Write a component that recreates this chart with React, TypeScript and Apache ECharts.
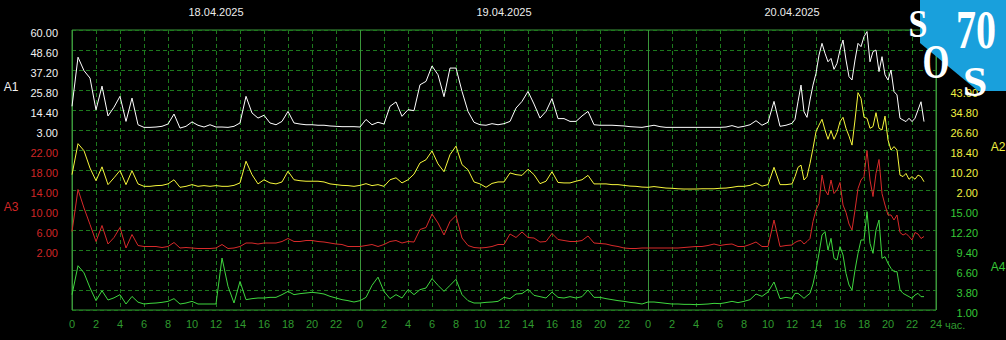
import React, { useEffect, useRef } from 'react';
import * as echarts from 'echarts';

// ---------- data ----------
const DAYS = ['18.04.2025', '19.04.2025', '20.04.2025'];

const A1_TICKS = ['60.00', '48.60', '37.20', '25.80', '14.40', '3.00'];
const A2_TICKS = ['43.00', '34.80', '26.60', '18.40', '10.20', '2.00'];
const A3_TICKS = ['22.00', '18.00', '14.00', '10.00', '6.00', '2.00'];
const A4_TICKS = ['15.00', '12.20', '9.40', '6.60', '3.80', '1.00'];

// sample times in hours from 18.04 00:00: every 30 min up to 59.5 h, then every 15 min up to 71 h
const TIMES: number[] = Array.from({ length: 120 }, (_, i) => i * 0.5).concat(
  Array.from({ length: 45 }, (_, i) => 60 + i * 0.25)
);

const A1_VALUES = [
  // 18.04
  16.5, 44.5, 36.8, 32.6, 14.5, 28.0, 11.0, 16.0, 22.2, 7.9, 21.2, 6.0, 4.5, 4.5, 4.7, 5.1, 6.4, 12.1, 4.1, 5.1, 7.6, 5.7, 4.7, 6.0,
  4.7, 4.7, 4.5, 5.1, 7.0, 22.2, 12.7, 9.8, 11.4, 7.0, 6.0, 7.9, 13.6, 7.0, 6.4, 6.0, 6.0, 5.7, 5.7, 5.3, 5.1, 4.9, 4.9, 4.9,
  // 19.04
  4.7, 9.0, 6.0, 7.4, 6.4, 16.5, 19.0, 10.8, 14.6, 14.0, 28.8, 30.7, 39.5, 34.5, 22.0, 38.3, 38.3, 25.0, 13.6, 7.4, 6.0, 5.7, 6.6, 6.0,
  6.6, 7.9, 15.5, 19.3, 25.0, 17.8, 9.8, 13.6, 20.9, 9.5, 9.5, 7.9, 7.9, 11.0, 13.6, 6.0, 5.7, 5.7, 5.7, 5.5, 5.3, 4.9, 4.7, 4.5,
  // 20.04 00:00-11:30
  5.1, 5.7, 4.9, 4.5, 4.5, 4.5, 4.5, 4.5, 4.5, 4.5, 4.5, 4.5, 4.5, 4.7, 5.5, 4.5, 5.1, 6.0, 8.3, 5.7, 7.4, 19.3, 5.1, 5.7,
  // 20.04 12:00-23:00 (15 min)
  6.8, 9.1, 19.1, 28.6, 13.4, 10.2, 20.1, 28.6, 35.3, 45.7, 52.4, 46.7, 41.9, 43.8, 37.6, 41.0, 48.6, 54.3, 42.9, 33.4, 31.5, 42.9, 52.4,
  50.5, 56.2, 59.1, 41.9, 47.7, 48.6, 36.3, 44.8, 34.4, 31.5, 37.2, 24.9, 23.0, 9.7, 8.7, 7.8, 9.7, 7.8, 9.7, 14.4, 19.1, 7.8,
];

const A2_VALUES = [
  8.3, 21.0, 18.1, 11.0, 5.8, 11.5, 4.2, 7.0, 10.0, 4.2, 9.9, 4.5, 3.5, 3.5, 3.8, 3.9, 4.5, 6.2, 3.1, 3.5, 4.2, 3.5, 3.8, 3.5,
  3.8, 3.5, 3.5, 3.9, 4.9, 13.8, 8.3, 4.5, 6.2, 4.9, 4.5, 5.3, 9.7, 6.2, 5.8, 5.6, 5.6, 5.6, 5.3, 4.5, 4.2, 3.9, 3.8, 3.5,
  3.9, 4.6, 3.8, 4.2, 3.5, 6.2, 7.0, 4.9, 6.2, 8.5, 13.1, 14.4, 18.0, 12.7, 9.5, 16.5, 20.0, 12.4, 10.3, 5.3, 4.5, 3.1, 4.7, 5.3,
  5.3, 9.0, 8.3, 8.0, 10.5, 8.3, 4.6, 5.6, 9.5, 5.1, 4.9, 4.9, 5.6, 6.2, 8.0, 4.5, 4.5, 4.5, 4.2, 4.2, 3.9, 3.6, 3.5, 3.2,
  3.1, 3.4, 3.1, 2.8, 2.7, 2.5, 2.4, 2.4, 2.4, 2.5, 2.5, 2.5, 2.7, 2.8, 3.1, 3.5, 3.5, 3.9, 4.9, 3.6, 4.2, 11.3, 4.2, 4.2,
  4.5, 7.5, 11.3, 12.2, 6.1, 7.5, 12.9, 19.1, 25.9, 28.6, 31.0, 26.6, 22.8, 26.3, 22.8, 25.5, 30.0, 31.8, 27.3, 24.1, 20.4, 30.7, 41.9,
  39.6, 31.8, 31.4, 27.3, 28.0, 33.7, 27.3, 26.6, 32.3, 22.5, 18.4, 19.8, 18.4, 8.1, 7.5, 8.8, 6.4, 7.5, 6.4, 8.1, 7.5, 5.4,
];

const A3_VALUES = [
  5.7, 14.1, 10.4, 7.1, 3.7, 6.9, 3.2, 4.5, 6.5, 2.4, 5.1, 2.9, 2.7, 2.7, 2.7, 2.5, 2.7, 3.5, 2.4, 2.5, 2.4, 2.3, 2.3, 2.3,
  2.4, 3.1, 2.3, 2.4, 2.7, 3.4, 3.4, 3.2, 3.4, 3.4, 3.4, 3.7, 4.3, 3.7, 3.7, 3.9, 3.9, 3.7, 3.6, 3.4, 3.2, 3.1, 2.7, 2.7,
  2.7, 2.9, 3.1, 2.7, 3.1, 3.7, 3.9, 3.4, 3.7, 3.6, 6.1, 6.5, 9.2, 7.4, 5.0, 7.7, 8.9, 4.4, 2.9, 2.5, 2.4, 2.5, 2.7, 3.1,
  3.1, 5.2, 4.5, 5.6, 4.5, 4.4, 3.6, 3.7, 5.3, 4.1, 3.9, 3.7, 3.7, 3.9, 4.8, 3.4, 3.3, 3.2, 2.9, 2.7, 2.4, 2.3, 2.3, 2.4,
  2.4, 2.4, 2.4, 2.4, 2.4, 2.4, 2.5, 2.6, 2.7, 2.7, 2.9, 3.2, 2.9, 3.1, 3.2, 2.7, 2.7, 3.1, 3.6, 2.7, 2.7, 8.0, 2.7, 2.9,
  3.0, 3.5, 3.8, 3.9, 3.2, 3.7, 4.3, 7.7, 10.0, 11.3, 17.0, 14.0, 13.0, 16.0, 13.3, 14.0, 15.5, 11.0, 9.5, 7.2, 6.0, 10.0, 14.3,
  16.0, 16.7, 21.9, 16.0, 12.7, 17.3, 20.1, 13.3, 11.0, 9.0, 9.0, 8.0, 9.0, 5.5, 5.0, 5.3, 4.7, 4.0, 5.5, 5.2, 4.3, 4.7,
];

const A4_VALUES = [
  3.15, 7.2, 6.2, 4.1, 2.3, 3.7, 2.4, 2.7, 3.15, 1.84, 2.9, 2.1, 1.84, 1.93, 1.98, 2.07, 2.21, 2.59, 1.84, 1.98, 2.21, 1.84, 1.84, 1.84,
  1.84, 8.28, 4.31, 1.98, 5.0, 2.45, 2.59, 2.68, 2.68, 2.77, 2.77, 3.15, 3.61, 3.15, 3.29, 3.38, 3.47, 3.38, 3.24, 2.91, 2.68, 2.45, 2.31, 2.12,
  2.31, 2.77, 4.45, 5.6, 3.6, 2.59, 3.15, 2.68, 3.85, 3.15, 3.85, 4.08, 5.4, 4.45, 3.61, 4.45, 5.3, 3.15, 2.31, 1.98, 1.98, 2.07, 2.12, 2.21,
  2.77, 2.59, 3.24, 3.3, 3.9, 3.05, 2.87, 2.68, 3.5, 2.77, 2.68, 2.87, 2.68, 2.87, 3.8, 2.77, 2.77, 2.59, 2.45, 2.31, 2.21, 2.07, 1.98, 1.84,
  2.12, 2.12, 2.03, 1.93, 1.84, 1.84, 1.79, 1.79, 1.75, 1.79, 1.84, 1.93, 1.89, 2.03, 2.21, 2.03, 2.21, 2.45, 3.24, 2.91, 3.52, 4.92, 2.59, 2.77,
  2.63, 3.33, 3.33, 3.0, 2.63, 3.0, 3.33, 4.64, 6.6, 8.93, 11.5, 11.97, 9.4, 11.03, 8.23, 8.0, 9.87, 8.7, 6.13, 4.5, 3.8, 6.6, 8.93,
  10.8, 10.8, 14.77, 10.33, 8.93, 12.2, 13.6, 8.23, 8.47, 7.53, 6.83, 6.37, 6.37, 3.8, 3.33, 3.1, 2.87, 2.63, 3.1, 3.33, 2.87, 2.87,
];

// ---------- styles ----------
const FONT = '"Liberation Sans", Arial, sans-serif';
const SERIF = '"Liberation Serif", "Times New Roman", serif';
const GRID_DASH = '#1d7a1d';
const BORDER = '#3a963a';
const C_WHITE = '#ffffff';
const C_YELLOW = '#f6f63c';
const C_RED = '#d82a2a';
const C_GREEN = '#3fd63f';
const L_WHITE = '#f2f2f2';
const L_YELLOW = '#f0f040';
const L_RED = '#d02626';
const L_GREEN = '#36c836';
const X_LABEL = '#2f9a2f';

const pair = (vals: number[]) => TIMES.map((t, i) => [t, vals[i]]);
const tickFmt = (ticks: string[]) => (v: number) => {
  const s = (Math.round(v * 100) / 100).toFixed(2);
  return ticks.includes(s) ? s : '';
};

const valueAxis = (
  position: 'left' | 'right',
  min: number,
  max: number,
  interval: number,
  ticks: string[],
  color: string
) => ({
  type: 'value',
  position,
  min,
  max,
  interval,
  axisLine: { show: false },
  axisTick: { show: false },
  splitLine: { show: false },
  axisLabel: {
    show: true,
    color,
    fontSize: 11,
    fontFamily: FONT,
    margin: position === 'left' ? 14 : 42,
    align: 'right',
    verticalAlign: 'top',
    lineHeight: 6,
    formatter: tickFmt(ticks),
  },
});

const txt = (x: number, y: number, text: string, fill: string, font: string, extra: any = {}) => ({
  type: 'text',
  x,
  y,
  z: 100,
  ...extra,
  style: {
    text,
    fill,
    font,
    align: 'center',
    verticalAlign: 'middle',
    textAlign: 'center',
    textVerticalAlign: 'middle',
  },
});

export default function App() {
  const ref = useRef<HTMLDivElement>(null);

  useEffect(() => {
    document.body.style.margin = '0';
    document.body.style.background = '#000';
    if (!ref.current) return;
    const chart = echarts.init(ref.current, undefined, { renderer: 'svg' });

    const lineSeries = (name: string, vals: number[], yAxisIndex: number, color: string) => ({
      name,
      type: 'line',
      xAxisIndex: 0,
      yAxisIndex,
      data: pair(vals),
      showSymbol: false,
      symbol: 'none',
      lineStyle: { color, width: 1 },
      itemStyle: { color },
      emphasis: { disabled: true },
    });

    chart.setOption({
      animation: false,
      backgroundColor: '#000',
      textStyle: { fontFamily: FONT },
      grid: {
        left: 72,
        top: 30,
        right: 70,
        bottom: 30,
        show: true,
        borderColor: BORDER,
        borderWidth: 1,
        backgroundColor: 'transparent',
        containLabel: false,
      },
      xAxis: [
        {
          type: 'value',
          position: 'bottom',
          min: 0,
          max: 72,
          interval: 2,
          axisLine: { show: false },
          axisTick: { show: false },
          splitLine: { show: true, lineStyle: { color: GRID_DASH, width: 1, type: [4, 3] } },
          axisLabel: {
            color: X_LABEL,
            fontSize: 11,
            fontFamily: FONT,
            margin: 8,
            formatter: (v: number) => (v === 72 ? '24' : String(v % 24)),
          },
        },
        {
          type: 'value',
          position: 'top',
          min: 0,
          max: 72,
          interval: 24,
          axisLine: { show: false },
          axisTick: { show: false },
          axisLabel: { show: false },
          splitLine: { show: true, lineStyle: { color: BORDER, width: 1 } },
        },
        {
          type: 'value',
          position: 'top',
          min: 0,
          max: 72,
          interval: 12,
          axisLine: { show: false },
          axisTick: { show: false },
          splitLine: { show: false },
          axisLabel: {
            color: '#ececec',
            fontSize: 11,
            fontFamily: FONT,
            margin: 13,
            formatter: (v: number) => (v % 24 === 12 ? DAYS[(v - 12) / 24] : ''),
          },
        },
      ],
      yAxis: [
        {
          type: 'value',
          position: 'left',
          min: 0,
          max: 14,
          interval: 1,
          axisLine: { show: false },
          axisTick: { show: false },
          axisLabel: { show: false },
          splitLine: { show: true, lineStyle: { color: GRID_DASH, width: 1, type: [4, 3] } },
        },
        valueAxis('left', -99.6, 60, 11.4, A1_TICKS, L_WHITE),
        valueAxis('right', -47.2, 67.6, 8.2, A2_TICKS, L_YELLOW),
        valueAxis('left', -10, 46, 4, A3_TICKS, L_RED),
        valueAxis('right', 1, 40.2, 2.8, A4_TICKS, L_GREEN),
      ],
      graphic: [
        txt(11, 87, 'A1', L_WHITE, '12px ' + FONT),
        txt(11, 207, 'A3', L_RED, '12px ' + FONT),
        txt(998, 147, 'A2', L_YELLOW, '12px ' + FONT),
        txt(998, 267, 'A4', L_GREEN, '12px ' + FONT),
        {
          type: 'text',
          x: 945,
          y: 325,
          z: 100,
          style: {
            text: 'час.',
            fill: X_LABEL,
            font: '11px ' + FONT,
            align: 'left',
            verticalAlign: 'middle',
            textAlign: 'left',
            textVerticalAlign: 'middle',
          },
        },
        {
          type: 'polygon',
          z: 99,
          shape: { points: [[920, 0], [1006, 0], [1006, 91], [978, 91], [920, 43]] },
          style: { fill: '#19a0dc' },
        },
        txt(918, 23, 'S', '#ffffff', 'bold 41px ' + SERIF, { scaleX: 0.83 }),
        txt(976, 30, '70', '#ffffff', 'bold 54px ' + SERIF, { scaleX: 0.74 }),
        txt(936, 62, 'O', '#ffffff', 'bold 48px ' + SERIF, { scaleX: 0.72 }),
        txt(975, 82, 'S', '#ffffff', 'bold 42px ' + SERIF, { scaleX: 1.05 }),
      ],
      series: [
        lineSeries('A4', A4_VALUES, 4, C_GREEN),
        lineSeries('A3', A3_VALUES, 3, C_RED),
        lineSeries('A2', A2_VALUES, 2, C_YELLOW),
        lineSeries('A1', A1_VALUES, 1, C_WHITE),
      ],
    });

    return () => chart.dispose();
  }, []);

  return <div ref={ref} style={{ width: 1006, height: 340, background: '#000' }} />;
}
